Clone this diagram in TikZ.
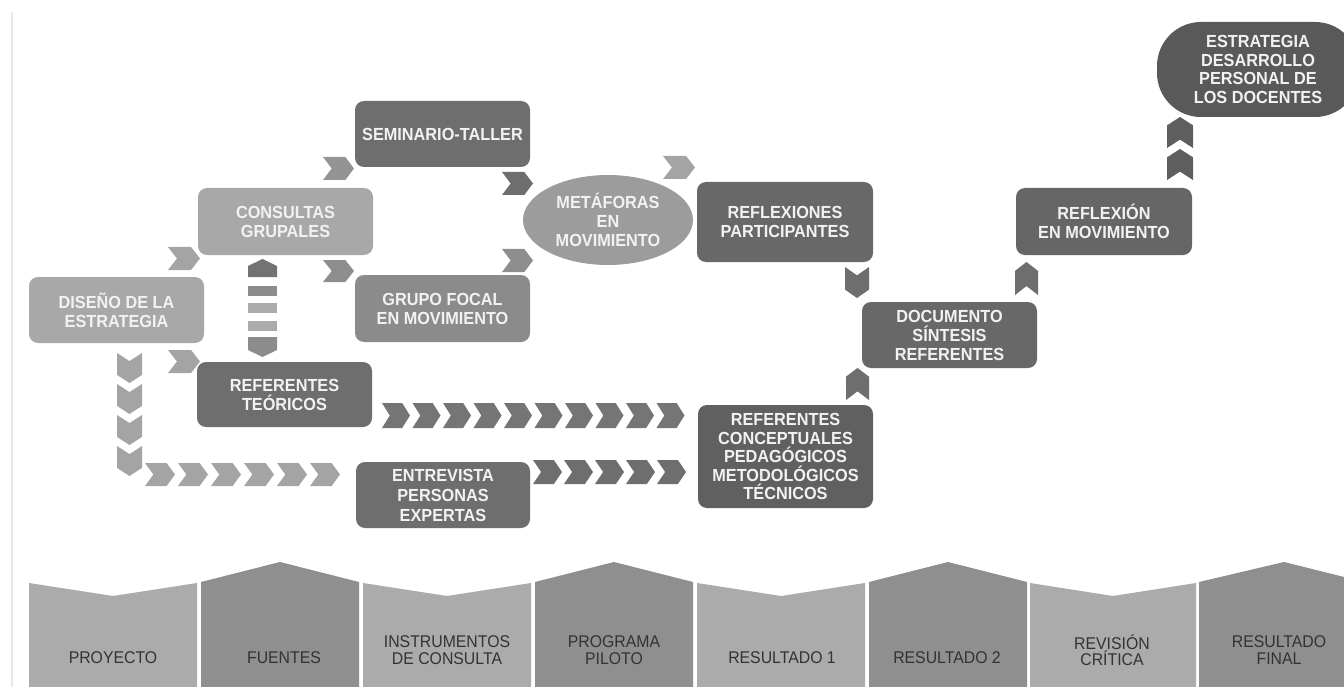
\documentclass[tikz,border=0pt]{standalone}
\usepackage{fontspec}
\setmainfont{Liberation Sans}
\newfontfamily\narrowfont[FakeStretch=0.93]{Liberation Sans}
\usetikzlibrary{shapes.geometric}
\definecolor{bxdark}{HTML}{6E6E6E}
\definecolor{bxdarker}{HTML}{606060}
\definecolor{bxlight}{HTML}{A8A8A8}
\definecolor{bxmed}{HTML}{8B8B8B}
\definecolor{bxell}{HTML}{9C9C9C}
\definecolor{bxtxt}{HTML}{F2F2F2}
\definecolor{pnlight}{HTML}{ABABAB}
\definecolor{pnmed}{HTML}{8F8F8F}
\definecolor{pntxt}{HTML}{333333}
\definecolor{chlight}{HTML}{A4A4A4}
\definecolor{chmed}{HTML}{8E8E8E}
\definecolor{chdark}{HTML}{6E6E6E}
\definecolor{chdarker}{HTML}{5E5E5E}
% right-pointing chevron: x y w h colour (top-left corner)
\newcommand\chR[5]{\fill[#5] (#1,#2) -- ++({0.72*#3},0) -- ++({0.28*#3},{#4/2}) -- ++({-0.28*#3},{#4/2}) -- ++({-0.72*#3},0) -- ++({0.28*#3},{-#4/2}) -- cycle;}
% down-pointing chevron
\newcommand\chD[5]{\fill[#5] (#1,#2) -- ++({#3/2},{0.27*#4}) -- ++({#3/2},{-0.27*#4}) -- ++(0,{0.73*#4}) -- ++({-#3/2},{0.27*#4}) -- ++({-#3/2},{-0.27*#4}) -- cycle;}
% up-pointing chevron
\newcommand\chU[5]{\fill[#5] (#1,{#2+#4}) -- ++({#3/2},{-0.27*#4}) -- ++({#3/2},{0.27*#4}) -- ++(0,{-0.73*#4}) -- ++({-#3/2},{-0.27*#4}) -- ++({-#3/2},{0.27*#4}) -- cycle;}
\tikzset{
  box/.style={rounded corners=9pt, minimum width=175pt, minimum height=66pt, align=center,
    text=bxtxt, font=\narrowfont\bfseries\fontsize{17.5}{19}\selectfont, inner sep=0pt},
  pantext/.style={align=center, text=pntxt, font=\narrowfont\fontsize{17}{16.5}\selectfont, inner sep=0pt}
}
\begin{document}
\begin{tikzpicture}[x=1pt,y=-1pt]
\useasboundingbox (0,0) rectangle (1344,687);
\fill[white] (0,0) rectangle (1344,687);
\draw[line width=1.5pt, color=black!9] (12,12) -- (12,687);

% ---------- boxes ----------
\node[box, fill=bxdark] (sem) at (442.5,134) {SEMINARIO-TALLER};
\node[box, fill=bxlight, minimum height=67pt] (con) at (285.5,221.5) {CONSULTAS\\GRUPALES};
\node[box, fill=bxlight] (dis) at (116.5,310) {DISEÑO DE LA\\ESTRATEGIA};
\node[box, fill=bxmed, minimum height=67pt] (gru) at (442.5,308.5) {GRUPO FOCAL\\EN MOVIMIENTO};
\node[box, fill=bxdark, minimum height=65pt] (rft) at (284.5,394.5) {REFERENTES\\TEÓRICOS};
\node[box, fill=bxdark, minimum width=174pt, font=\narrowfont\bfseries\fontsize{17.5}{20}\selectfont] (ent) at (443,495) {ENTREVISTA\\PERSONAS\\EXPERTAS};
\node[ellipse, fill=bxell, minimum width=170pt, minimum height=90pt, inner sep=0pt, align=center,
      text=bxtxt, font=\narrowfont\bfseries\fontsize{17.5}{19}\selectfont] (met) at (608,220) {METÁFORAS\\EN\\MOVIMIENTO};
\node[box, fill=bxdark!95!black, minimum width=176pt, minimum height=80pt] (rpa) at (785,222) {REFLEXIONES\\PARTICIPANTES};
\node[box, fill=bxdark!95!black] (doc) at (949.5,335) {DOCUMENTO\\SÍNTESIS\\REFERENTES};
\node[box, fill=bxdarker, minimum height=103pt, font=\narrowfont\bfseries\fontsize{17.5}{18.5}\selectfont] (rco) at (785.5,456.5) {REFERENTES\\CONCEPTUALES\\PEDAGÓGICOS\\METODOLÓGICOS\\TÉCNICOS};
\node[box, fill=bxdark!93!black, minimum width=176pt, minimum height=67pt] (rem) at (1104,221.5) {REFLEXIÓN\\EN MOVIMIENTO};
\node[box, fill=bxdarker!93!black, rounded corners=44pt, minimum width=202pt, minimum height=95pt,
      font=\narrowfont\bfseries\fontsize{17.5}{18.7}\selectfont] (est) at (1258,69.5) {ESTRATEGIA\\DESARROLLO\\PERSONAL DE\\LOS DOCENTES};

% ---------- chevrons ----------
\chR{168}{247}{32}{23}{chlight}   % dis -> con
\chR{168}{350}{32}{23}{chlight}   % dis -> rft
\chR{323}{157}{31}{23}{chlight!90!black} % con -> sem
\chR{323}{260}{31}{22}{chmed}     % con -> gru
\chR{502}{172}{31}{23}{chdark}    % sem -> met
\chR{502}{249}{31}{23}{chmed}     % gru -> met
\chR{663}{156}{32}{23}{chlight}   % met -> rpa
\foreach \i in {0,...,3} {\chD{117}{353+31*\i}{25}{30}{chlight}}
\foreach \i in {0,...,5} {\chR{145+33*\i}{463}{30}{23}{chlight}}
\foreach \i in {0,...,9} {\chR{382+30.5*\i}{403}{28}{25}{chdark!95!white}}
\foreach \i in {0,...,4} {\chR{533+31*\i}{460}{29}{24}{chdark}}
\chD{845}{267}{24}{31}{chdark}    % rpa -> doc
\chU{846}{368}{23}{32}{chdark}    % rco -> doc
\chU{1015}{262}{23}{33}{chdark}   % doc -> rem
\chU{1167}{149}{26}{31}{chdarker} % rem -> est
\chU{1167}{117}{26}{31}{chdarker}

% striped double bar between con and rft
\fill[black!55] (248,277) -- (248,266) -- (262.5,259) -- (277,266) -- (277,277) -- cycle;
\fill[black!45] (248,286) rectangle (277,296);
\fill[black!33] (248,303) rectangle (277,313);
\fill[black!33] (248,321) rectangle (277,331);
\fill[black!45] (248,337) -- (277,337) -- (277,350) -- (262.5,357) -- (248,350) -- cycle;

% ---------- bottom panels ----------
\fill[pnlight] (29,687) -- (29,583) -- (113,596) -- (197,583) -- (197,687) -- cycle;
\fill[pnmed]   (201,687) -- (201,582) -- (280,562) -- (359,582) -- (359,687) -- cycle;
\fill[pnlight] (363,687) -- (363,583) -- (447,596) -- (531,583) -- (531,687) -- cycle;
\fill[pnmed]   (535,687) -- (535,582) -- (614,562) -- (693,582) -- (693,687) -- cycle;
\fill[pnlight] (697,687) -- (697,583) -- (781,596) -- (865,583) -- (865,687) -- cycle;
\fill[pnmed]   (869,687) -- (869,582) -- (948,562) -- (1027,582) -- (1027,687) -- cycle;
\fill[pnlight] (1030,687) -- (1030,583) -- (1113,596) -- (1196,583) -- (1196,687) -- cycle;
\fill[pnmed]   (1199,687) -- (1199,582) -- (1284,562) -- (1344,577) -- (1344,687) -- cycle;

\node[pantext] (p1) at (113,658) {PROYECTO};
\node[pantext] (p2) at (284,658) {FUENTES};
\node[pantext] (p3) at (447,650) {INSTRUMENTOS\\DE CONSULTA};
\node[pantext] (p4) at (614,650) {PROGRAMA\\PILOTO};
\node[pantext] (p5) at (782,658) {RESULTADO 1};
\node[pantext] (p6) at (947,658) {RESULTADO 2};
\node[pantext] (p7) at (1112,650) {REVISIÓN\\CRÍTICA};
\node[pantext] (p8) at (1279,650) {RESULTADO\\FINAL};
\end{tikzpicture}
\end{document}
